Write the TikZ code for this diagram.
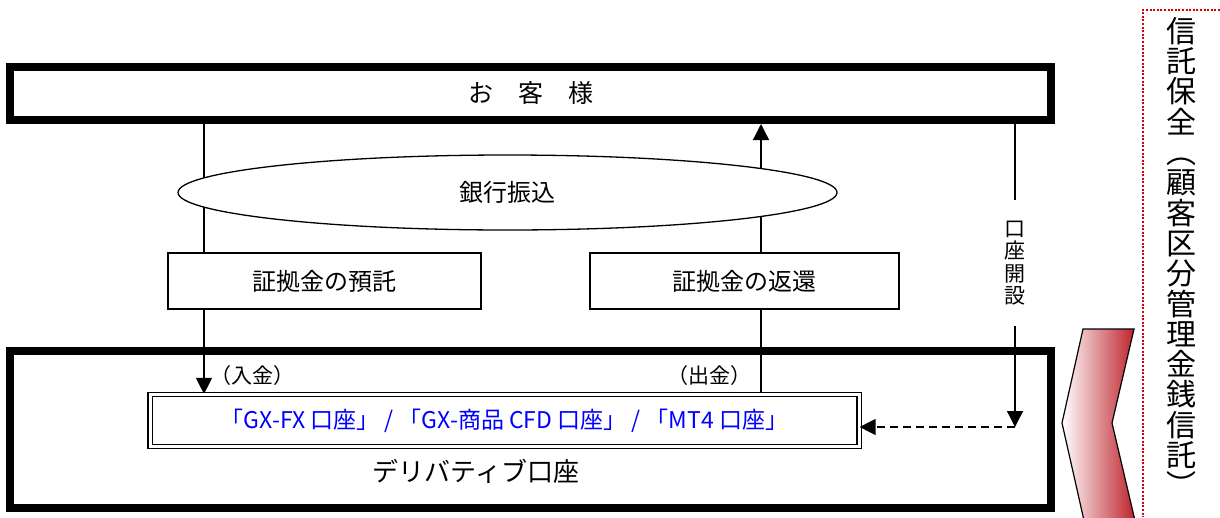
\documentclass[tikz,border=0pt]{standalone}
\usepackage{fontspec}
\setmainfont{Noto Sans CJK JP}
\usetikzlibrary{shapes.geometric,arrows.meta,backgrounds}
\tikzset{thickbox/.style={draw,line width=8pt,inner sep=0pt}}
\tikzset{thinbox/.style={draw,fill=white,line width=1.3pt,inner sep=0pt}}
\tikzset{flow/.style={line width=1.3pt,-{Triangle[width=16pt,length=16pt]}}}
\tikzset{guard/.style={draw=red!85!black,line width=2pt,dash pattern=on 2pt off 1.6pt}}
\definecolor{chevred}{RGB}{190,30,40}
\colorlet{acctblue}{blue}
\newcommand{\fsz}[1]{\fontsize{#1}{#1}\selectfont}

\begin{document}
\begin{tikzpicture}[x=1pt,y=-1pt]
	\useasboundingbox (0,0) rectangle (1220,517);
	\node[thickbox,minimum width=1041pt,minimum height=53pt,font=\fsz{25}] (cust) at (530.5,93.5) {お　客　様};
	\node[ellipse,draw,fill=white,line width=1.3pt,inner sep=0pt,minimum width=659pt,minimum height=75pt,font=\fsz{24}] (bank) at (507.5,192.5) {銀行振込};
	\node[thinbox,minimum width=313pt,minimum height=56pt,font=\fsz{24}] (deposit) at (324.5,281) {証拠金の預託};
	\node[thinbox,minimum width=309pt,minimum height=56pt,font=\fsz{24}] (refund) at (744.5,281) {証拠金の返還};
	\node[thickbox,minimum width=1041pt,minimum height=157pt] (deriv) at (530.5,429.5) {};
	\node[font=\fsz{26}] (derivlabel) at (476,471) {デリバティブ口座};
	\node[draw,double,double distance=3pt,line width=1.2pt,fill=white,inner sep=0pt,minimum width=709pt,minimum height=52pt,text=acctblue,font=\fsz{23}] (acct) at (504.5,420.5) {「GX-FX 口座」 / 「GX-商品 CFD 口座」 / 「MT4 口座」};
	\node[anchor=west,font=\fsz{21}] (inlabel) at (207,376) {（入金）};
	\node[anchor=east,font=\fsz{21}] (outlabel) at (755,376) {（出金）};
	\node[fill=white,inner sep=0pt,minimum height=126pt,align=center,font=\fontsize{21}{22.5}\selectfont] (opening) at (1015,263) {口\\座\\開\\設};
	\coordinate (corner) at (1015,427);
	\begin{pgfonlayer}{background}
		\draw[flow] (204,0 |- cust.south) -- (204,0 |- acct.north);
		\draw[flow] (761,0 |- acct.north) -- (761,0 |- cust.south);
		\draw[flow] (1015,0 |- cust.south) -- (corner);
	\end{pgfonlayer}
	\draw[flow,dash pattern=on 8pt off 5pt] (corner) -- (corner -| acct.east);
	\shadedraw[left color=white,right color=chevred,line width=1.2pt] (1083,329) -- (1134,329) -- (1112,423) -- (1136,525) -- (1085,525) -- (1062,423) -- cycle;
	\draw[guard] (1220,10) -- (1143,10) -- (1143,517);
	\node[align=center,font=\fontsize{30}{30.3}\selectfont] (trust) at (1181,257) {信\\託\\保\\全\\︵\\顧\\客\\区\\分\\管\\理\\金\\銭\\信\\託\\︶};
\end{tikzpicture}
\end{document}
